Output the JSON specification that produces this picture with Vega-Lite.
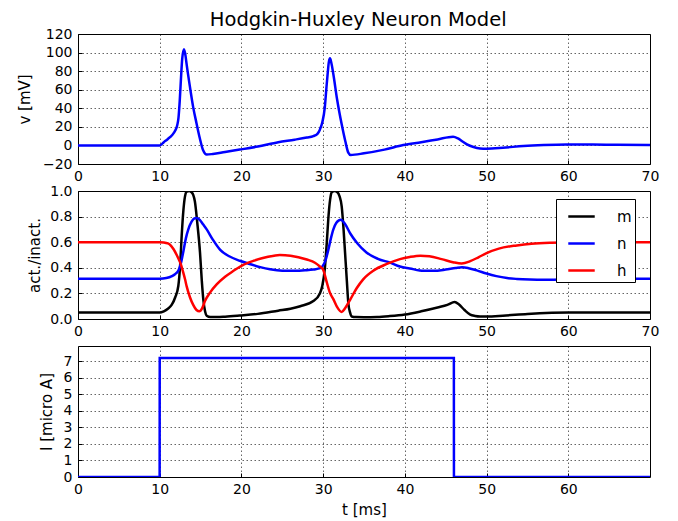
{
  "$schema": "https://vega.github.io/schema/vega-lite/v6.json",
  "autosize": {"type": "pad"},
  "padding": {"left": 16, "top": 10, "right": 20, "bottom": 3},
  "background": "white",
  "title": {"text": "Hodgkin-Huxley Neuron Model", "font": "DejaVu Sans", "fontSize": 19.5, "fontWeight": "normal", "color": "black", "anchor": "middle", "baseline": "alphabetic", "offset": -19, "dx": 20},
  "spacing": 27,
  "bounds": "flush",
  "config": {
    "view": {"stroke": "black", "strokeWidth": 1},
    "axis": {
      "labelFont": "DejaVu Sans", "labelFontSize": 14, "labelColor": "black",
      "titleFont": "DejaVu Sans", "titleFontSize": 15, "titleFontWeight": "normal", "titleColor": "black",
      "domain": false, "ticks": true, "tickColor": "black", "tickSize": -4, "tickWidth": 1,
      "grid": true, "gridColor": "black", "gridDash": [1.5, 2.5], "gridOpacity": 0.6, "gridWidth": 1,
      "labelFlush": false, "labelOverlap": false
    },
    "axisX": {"labelPadding": 9},
    "axisY": {"labelPadding": 10}
  },
  "datasets": {
    "volt": [
      {"t": 0, "v": 0}, {"t": 5, "v": 0}, {"t": 10, "v": 0}, {"t": 10.5, "v": 3.5}, {"t": 11, "v": 7},
      {"t": 11.5, "v": 11}, {"t": 11.9, "v": 16}, {"t": 12.15, "v": 22}, {"t": 12.3, "v": 30}, {"t": 12.45, "v": 48},
      {"t": 12.6, "v": 72}, {"t": 12.75, "v": 93}, {"t": 12.97, "v": 103.5}, {"t": 13.15, "v": 97}, {"t": 13.3, "v": 87},
      {"t": 13.7, "v": 63}, {"t": 14.1, "v": 41}, {"t": 14.5, "v": 24}, {"t": 14.9, "v": 8}, {"t": 15.3, "v": -5},
      {"t": 15.75, "v": -9.8}, {"t": 16.5, "v": -9.2}, {"t": 18, "v": -7}, {"t": 19.8, "v": -4.5}, {"t": 22, "v": -1.2},
      {"t": 24.5, "v": 3.5}, {"t": 26.5, "v": 6.2}, {"t": 28, "v": 8.5}, {"t": 28.8, "v": 10}, {"t": 29.3, "v": 12.5},
      {"t": 29.6, "v": 17}, {"t": 29.9, "v": 25}, {"t": 30.2, "v": 40.6}, {"t": 30.4, "v": 62}, {"t": 30.55, "v": 77},
      {"t": 30.7, "v": 90}, {"t": 30.84, "v": 93.8}, {"t": 31.0, "v": 89}, {"t": 31.25, "v": 76.6}, {"t": 31.7, "v": 50},
      {"t": 32.27, "v": 22.7}, {"t": 32.7, "v": 5}, {"t": 33.08, "v": -7.8}, {"t": 33.37, "v": -10.3}, {"t": 35, "v": -8.5},
      {"t": 37.5, "v": -4.5}, {"t": 39.8, "v": 0.4}, {"t": 42, "v": 3.5}, {"t": 44, "v": 6.5}, {"t": 45.9, "v": 9.3},
      {"t": 46.5, "v": 7.5}, {"t": 47.1, "v": 4}, {"t": 47.6, "v": 1.2}, {"t": 48.4, "v": -1.7}, {"t": 49.2, "v": -3.2},
      {"t": 50, "v": -3.5}, {"t": 52, "v": -2.5}, {"t": 54.5, "v": -0.6}, {"t": 57, "v": 0.5}, {"t": 59.8, "v": 1.1},
      {"t": 63, "v": 1}, {"t": 66, "v": 0.6}, {"t": 70, "v": 0.4}
    ],
    "gates": [
      {"t": 0, "var": "m", "val": 0.05}, {"t": 10, "var": "m", "val": 0.05}, {"t": 10.5, "var": "m", "val": 0.06},
      {"t": 11, "var": "m", "val": 0.08}, {"t": 11.46, "var": "m", "val": 0.11}, {"t": 11.9, "var": "m", "val": 0.17},
      {"t": 12.28, "var": "m", "val": 0.26}, {"t": 12.5, "var": "m", "val": 0.42}, {"t": 12.69, "var": "m", "val": 0.65},
      {"t": 12.9, "var": "m", "val": 0.85}, {"t": 13.1, "var": "m", "val": 0.96}, {"t": 13.3, "var": "m", "val": 0.995},
      {"t": 13.6, "var": "m", "val": 1.0}, {"t": 13.9, "var": "m", "val": 0.99}, {"t": 14.1, "var": "m", "val": 0.97},
      {"t": 14.3, "var": "m", "val": 0.92}, {"t": 14.6, "var": "m", "val": 0.75}, {"t": 14.93, "var": "m", "val": 0.52},
      {"t": 15.15, "var": "m", "val": 0.3}, {"t": 15.34, "var": "m", "val": 0.15}, {"t": 15.55, "var": "m", "val": 0.06},
      {"t": 15.75, "var": "m", "val": 0.025}, {"t": 16.2, "var": "m", "val": 0.015}, {"t": 17, "var": "m", "val": 0.015},
      {"t": 18, "var": "m", "val": 0.018}, {"t": 19.8, "var": "m", "val": 0.027}, {"t": 22, "var": "m", "val": 0.04},
      {"t": 24.5, "var": "m", "val": 0.065}, {"t": 26, "var": "m", "val": 0.08}, {"t": 27.2, "var": "m", "val": 0.1},
      {"t": 28.8, "var": "m", "val": 0.14}, {"t": 29.6, "var": "m", "val": 0.2}, {"t": 29.9, "var": "m", "val": 0.26},
      {"t": 30.2, "var": "m", "val": 0.39}, {"t": 30.45, "var": "m", "val": 0.6}, {"t": 30.63, "var": "m", "val": 0.78},
      {"t": 30.85, "var": "m", "val": 0.93}, {"t": 31.05, "var": "m", "val": 0.99}, {"t": 31.4, "var": "m", "val": 1.0},
      {"t": 31.75, "var": "m", "val": 0.99}, {"t": 32.0, "var": "m", "val": 0.96}, {"t": 32.27, "var": "m", "val": 0.88},
      {"t": 32.5, "var": "m", "val": 0.7}, {"t": 32.68, "var": "m", "val": 0.52}, {"t": 32.9, "var": "m", "val": 0.3},
      {"t": 33.08, "var": "m", "val": 0.125}, {"t": 33.3, "var": "m", "val": 0.05}, {"t": 33.5, "var": "m", "val": 0.02},
      {"t": 34, "var": "m", "val": 0.015}, {"t": 35, "var": "m", "val": 0.014}, {"t": 36.6, "var": "m", "val": 0.016},
      {"t": 38, "var": "m", "val": 0.022}, {"t": 40, "var": "m", "val": 0.035}, {"t": 42, "var": "m", "val": 0.06},
      {"t": 44, "var": "m", "val": 0.09}, {"t": 45.2, "var": "m", "val": 0.11}, {"t": 46.1, "var": "m", "val": 0.133},
      {"t": 46.6, "var": "m", "val": 0.115}, {"t": 47.3, "var": "m", "val": 0.07}, {"t": 48, "var": "m", "val": 0.034},
      {"t": 48.6, "var": "m", "val": 0.024}, {"t": 49.2, "var": "m", "val": 0.02}, {"t": 50, "var": "m", "val": 0.02},
      {"t": 52, "var": "m", "val": 0.026}, {"t": 55, "var": "m", "val": 0.04}, {"t": 58, "var": "m", "val": 0.048},
      {"t": 60, "var": "m", "val": 0.05}, {"t": 65, "var": "m", "val": 0.05}, {"t": 70, "var": "m", "val": 0.05},

      {"t": 0, "var": "n", "val": 0.315}, {"t": 10, "var": "n", "val": 0.315}, {"t": 10.8, "var": "n", "val": 0.32},
      {"t": 11.5, "var": "n", "val": 0.335}, {"t": 11.87, "var": "n", "val": 0.35}, {"t": 12.3, "var": "n", "val": 0.38},
      {"t": 12.57, "var": "n", "val": 0.43}, {"t": 12.9, "var": "n", "val": 0.53}, {"t": 13.2, "var": "n", "val": 0.63},
      {"t": 13.5, "var": "n", "val": 0.70}, {"t": 13.9, "var": "n", "val": 0.76}, {"t": 14.2, "var": "n", "val": 0.785},
      {"t": 14.52, "var": "n", "val": 0.79}, {"t": 14.9, "var": "n", "val": 0.775}, {"t": 15.3, "var": "n", "val": 0.74},
      {"t": 15.75, "var": "n", "val": 0.70}, {"t": 16.5, "var": "n", "val": 0.62}, {"t": 17.4, "var": "n", "val": 0.54},
      {"t": 18.5, "var": "n", "val": 0.49}, {"t": 19.8, "var": "n", "val": 0.455}, {"t": 21, "var": "n", "val": 0.43},
      {"t": 22.3, "var": "n", "val": 0.405}, {"t": 23.5, "var": "n", "val": 0.388}, {"t": 25, "var": "n", "val": 0.377},
      {"t": 26.5, "var": "n", "val": 0.376}, {"t": 27.8, "var": "n", "val": 0.38}, {"t": 28.8, "var": "n", "val": 0.386},
      {"t": 29.5, "var": "n", "val": 0.395}, {"t": 29.9, "var": "n", "val": 0.41}, {"t": 30.3, "var": "n", "val": 0.46},
      {"t": 30.63, "var": "n", "val": 0.54}, {"t": 30.95, "var": "n", "val": 0.63}, {"t": 31.25, "var": "n", "val": 0.70},
      {"t": 31.6, "var": "n", "val": 0.75}, {"t": 32.15, "var": "n", "val": 0.775}, {"t": 32.7, "var": "n", "val": 0.74},
      {"t": 33.3, "var": "n", "val": 0.67}, {"t": 34.2, "var": "n", "val": 0.59}, {"t": 35.3, "var": "n", "val": 0.52},
      {"t": 36.7, "var": "n", "val": 0.47}, {"t": 38.2, "var": "n", "val": 0.44}, {"t": 39.4, "var": "n", "val": 0.41},
      {"t": 40.6, "var": "n", "val": 0.395}, {"t": 42.3, "var": "n", "val": 0.376}, {"t": 43.5, "var": "n", "val": 0.376},
      {"t": 45, "var": "n", "val": 0.386}, {"t": 46.2, "var": "n", "val": 0.398}, {"t": 47.0, "var": "n", "val": 0.404},
      {"t": 47.8, "var": "n", "val": 0.397}, {"t": 48.8, "var": "n", "val": 0.38}, {"t": 50, "var": "n", "val": 0.355},
      {"t": 51.2, "var": "n", "val": 0.335}, {"t": 52.5, "var": "n", "val": 0.32}, {"t": 53.7, "var": "n", "val": 0.313},
      {"t": 55.3, "var": "n", "val": 0.308}, {"t": 57, "var": "n", "val": 0.306}, {"t": 58.2, "var": "n", "val": 0.307},
      {"t": 61, "var": "n", "val": 0.31}, {"t": 65, "var": "n", "val": 0.314}, {"t": 70, "var": "n", "val": 0.315},

      {"t": 0, "var": "h", "val": 0.6}, {"t": 10, "var": "h", "val": 0.6}, {"t": 10.5, "var": "h", "val": 0.598},
      {"t": 11, "var": "h", "val": 0.59}, {"t": 11.26, "var": "h", "val": 0.58}, {"t": 11.7, "var": "h", "val": 0.545},
      {"t": 12.08, "var": "h", "val": 0.50}, {"t": 12.3, "var": "h", "val": 0.47}, {"t": 12.57, "var": "h", "val": 0.43},
      {"t": 12.85, "var": "h", "val": 0.37}, {"t": 13.1, "var": "h", "val": 0.31}, {"t": 13.3, "var": "h", "val": 0.255},
      {"t": 13.7, "var": "h", "val": 0.17}, {"t": 14.1, "var": "h", "val": 0.11}, {"t": 14.5, "var": "h", "val": 0.07},
      {"t": 14.85, "var": "h", "val": 0.06}, {"t": 15.2, "var": "h", "val": 0.085}, {"t": 15.54, "var": "h", "val": 0.14},
      {"t": 16.2, "var": "h", "val": 0.21}, {"t": 16.97, "var": "h", "val": 0.27}, {"t": 18, "var": "h", "val": 0.33},
      {"t": 19, "var": "h", "val": 0.375}, {"t": 20, "var": "h", "val": 0.415}, {"t": 20.85, "var": "h", "val": 0.44},
      {"t": 21.5, "var": "h", "val": 0.455}, {"t": 22.5, "var": "h", "val": 0.475}, {"t": 24, "var": "h", "val": 0.495},
      {"t": 24.7, "var": "h", "val": 0.5}, {"t": 26, "var": "h", "val": 0.495}, {"t": 28, "var": "h", "val": 0.465},
      {"t": 29, "var": "h", "val": 0.44}, {"t": 29.6, "var": "h", "val": 0.41}, {"t": 30, "var": "h", "val": 0.385},
      {"t": 30.43, "var": "h", "val": 0.29}, {"t": 30.8, "var": "h", "val": 0.21}, {"t": 31.25, "var": "h", "val": 0.155},
      {"t": 31.7, "var": "h", "val": 0.095}, {"t": 32.27, "var": "h", "val": 0.055}, {"t": 32.7, "var": "h", "val": 0.085},
      {"t": 33.3, "var": "h", "val": 0.15}, {"t": 34.1, "var": "h", "val": 0.24}, {"t": 34.9, "var": "h", "val": 0.31},
      {"t": 36.2, "var": "h", "val": 0.38}, {"t": 37.8, "var": "h", "val": 0.43}, {"t": 39.4, "var": "h", "val": 0.468},
      {"t": 40.6, "var": "h", "val": 0.485}, {"t": 41.9, "var": "h", "val": 0.495}, {"t": 43, "var": "h", "val": 0.49},
      {"t": 44.5, "var": "h", "val": 0.468}, {"t": 46, "var": "h", "val": 0.442}, {"t": 46.95, "var": "h", "val": 0.434},
      {"t": 48, "var": "h", "val": 0.452}, {"t": 49, "var": "h", "val": 0.482}, {"t": 50, "var": "h", "val": 0.515},
      {"t": 51.5, "var": "h", "val": 0.55}, {"t": 53.7, "var": "h", "val": 0.575}, {"t": 55.5, "var": "h", "val": 0.588},
      {"t": 57.8, "var": "h", "val": 0.595}, {"t": 62, "var": "h", "val": 0.599}, {"t": 70, "var": "h", "val": 0.6}
    ],
    "current": [
      {"t": 0, "I": 0}, {"t": 9.99, "I": 0}, {"t": 10, "I": 7.2}, {"t": 45.99, "I": 7.2}, {"t": 46, "I": 0}, {"t": 69.99, "I": 0}
    ]
  },
  "vconcat": [
    {
      "width": 572, "height": 130,
      "data": {"name": "volt"},
      "mark": {"type": "line", "color": "blue", "strokeWidth": 2.5, "interpolate": "monotone", "clip": true},
      "encoding": {
        "x": {"field": "t", "type": "quantitative", "scale": {"domain": [0, 70], "nice": false}, "axis": {"title": null, "values": [0, 10, 20, 30, 40, 50, 60, 70]}},
        "y": {"field": "v", "type": "quantitative", "scale": {"domain": [-20, 120], "nice": false, "zero": false}, "axis": {"title": "v [mV]", "values": [-20, 0, 20, 40, 60, 80, 100, 120], "titlePadding": 10}}
      }
    },
    {
      "width": 572, "height": 128,
      "data": {"name": "gates"},
      "mark": {"type": "line", "strokeWidth": 2.5, "interpolate": "monotone", "clip": true},
      "encoding": {
        "x": {"field": "t", "type": "quantitative", "scale": {"domain": [0, 70], "nice": false}, "axis": {"title": null, "values": [0, 10, 20, 30, 40, 50, 60, 70]}},
        "y": {"field": "val", "type": "quantitative", "scale": {"domain": [0, 1], "nice": false}, "axis": {"title": "act./inact.", "values": [0, 0.2, 0.4, 0.6, 0.8, 1.0], "format": ".1f", "titlePadding": 7}},
        "color": {"field": "var", "type": "nominal", "scale": {"domain": ["m", "n", "h"], "range": ["black", "blue", "red"]},
          "legend": {"title": null, "orient": "none", "legendX": 478, "legendY": 165, "symbolType": "stroke", "symbolSize": 700, "symbolStrokeWidth": 2.5, "labelFont": "DejaVu Sans", "labelFontSize": 15, "labelColor": "black", "labelOffset": 21, "labelExpr": "datum.label + '\u00a0\u00a0'", "rowPadding": 4, "padding": 3, "strokeColor": "black", "fillColor": "white", "symbolOffset": 8}}
      }
    },
    {
      "width": 572, "height": 131,
      "data": {"name": "current"},
      "mark": {"type": "line", "color": "blue", "strokeWidth": 2.5, "clip": true},
      "encoding": {
        "x": {"field": "t", "type": "quantitative", "scale": {"domain": [0, 69.99], "nice": false}, "axis": {"title": "t [ms]", "values": [0, 10, 20, 30, 40, 50, 60], "titlePadding": 6}},
        "y": {"field": "I", "type": "quantitative", "scale": {"domain": [0, 7.92], "nice": false}, "axis": {"title": "I [micro A]", "values": [0, 1, 2, 3, 4, 5, 6, 7], "titlePadding": 9}}
      }
    }
  ]
}
